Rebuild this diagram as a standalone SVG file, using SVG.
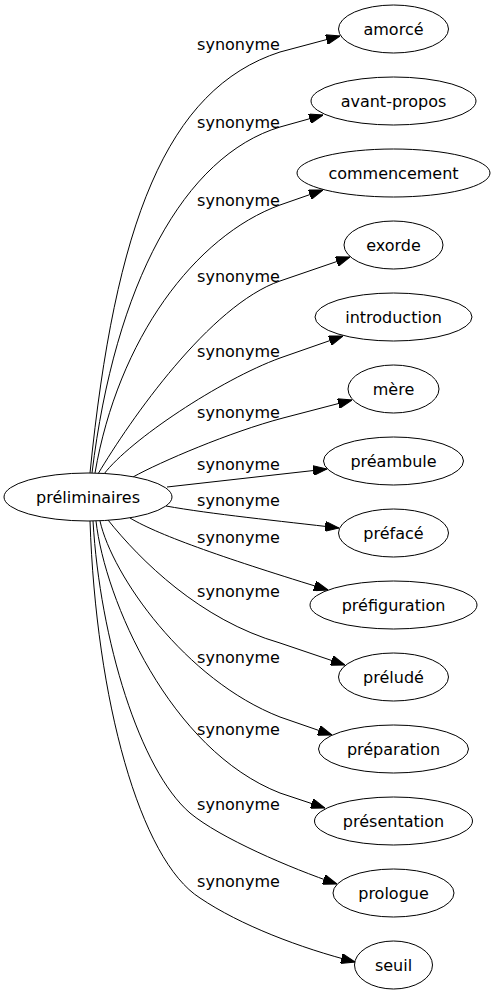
<svg xmlns="http://www.w3.org/2000/svg" width="495" height="995" viewBox="0 0 495 995">
<defs>
<style>
.node ellipse{fill:#fff;stroke:#000;stroke-width:1}
.node text{font-family:"DejaVu Sans",Verdana,sans-serif;font-size:16px;fill:#000;text-anchor:middle}
.edges path{fill:none;stroke:#000;stroke-width:1;marker-end:url(#arrow)}
.lbl text{font-family:"DejaVu Sans",Verdana,sans-serif;font-size:16px;fill:#000;text-anchor:middle}
</style>
<marker id="arrow" viewBox="0 0 14 10" refX="14" refY="5" markerWidth="14" markerHeight="10" markerUnits="userSpaceOnUse" orient="auto">
<path d="M0,0 L14,5 L0,10 z" fill="#000" stroke="#000" stroke-width="1"/>
</marker>
</defs>
<rect width="495" height="995" fill="#fff"/>
<g id="edges" class="edges">
<path d="M90,473 C115,224 166,89 280,52 L340,36"/>
<path d="M92,473 C115,284 184,156 280,127 L323,115"/>
<path d="M95,473 C118,339 195,236 280,205 L323,190"/>
<path d="M98,474 C130,420 210,305 280,281 L350,257"/>
<path d="M104,474 C130,440 220,380 280,358 L343,336"/>
<path d="M133,477 C160,462 230,432 283,418 L352,400"/>
<path d="M167,487 L327,469"/>
<path d="M166,506 C210,514 280,521 339,528"/>
<path d="M130,518 C160,536 230,560 328,590"/>
<path d="M108,520 C140,560 200,620 280,643 L345,665"/>
<path d="M100,521 C112,575 185,680 280,717 L332,735"/>
<path d="M96,521 C105,600 170,750 280,793 L325,808"/>
<path d="M93,521 C100,640 140,770 190,813 C220,838 290,868 337,884"/>
<path d="M90,521 C96,700 140,860 200,898 C240,925 300,948 355,962"/>
</g>
<g id="labels" class="lbl">
<text x="238.5" y="49.5">synonyme</text>
<text x="238.5" y="127.5">synonyme</text>
<text x="238.5" y="205.5">synonyme</text>
<text x="238.5" y="281.5">synonyme</text>
<text x="238.5" y="356.5">synonyme</text>
<text x="238.5" y="417.5">synonyme</text>
<text x="238.5" y="469.5">synonyme</text>
<text x="238.5" y="505.5">synonyme</text>
<text x="238.5" y="542.5">synonyme</text>
<text x="238.5" y="596.5">synonyme</text>
<text x="238.5" y="662.5">synonyme</text>
<text x="238.5" y="734.5">synonyme</text>
<text x="238.5" y="809.5">synonyme</text>
<text x="238.5" y="886.5">synonyme</text>
</g>
<g id="preliminaires" class="node"><ellipse cx="88" cy="497" rx="84" ry="24"/><text x="88" y="502.5">préliminaires</text></g>
<g id="amorce" class="node"><ellipse cx="393.5" cy="29" rx="55" ry="24"/><text x="393.5" y="34.5">amorcé</text></g>
<g id="avant-propos" class="node"><ellipse cx="393.5" cy="101" rx="82.5" ry="24"/><text x="393.5" y="106.5">avant-propos</text></g>
<g id="commencement" class="node"><ellipse cx="393.5" cy="173" rx="96.5" ry="24"/><text x="393.5" y="178.5">commencement</text></g>
<g id="exorde" class="node"><ellipse cx="393.5" cy="245" rx="49.5" ry="24"/><text x="393.5" y="250.5">exorde</text></g>
<g id="introduction" class="node"><ellipse cx="393.5" cy="317" rx="78.5" ry="24"/><text x="393.5" y="322.5">introduction</text></g>
<g id="mere" class="node"><ellipse cx="393.5" cy="389" rx="45.5" ry="24"/><text x="393.5" y="394.5">mère</text></g>
<g id="preambule" class="node"><ellipse cx="393.5" cy="461" rx="70" ry="24"/><text x="393.5" y="466.5">préambule</text></g>
<g id="preface" class="node"><ellipse cx="393.5" cy="533" rx="55" ry="24"/><text x="393.5" y="538.5">préfacé</text></g>
<g id="prefiguration" class="node"><ellipse cx="393.5" cy="605" rx="83.5" ry="24"/><text x="393.5" y="610.5">préfiguration</text></g>
<g id="prelude" class="node"><ellipse cx="393.5" cy="677" rx="55" ry="24"/><text x="393.5" y="682.5">préludé</text></g>
<g id="preparation" class="node"><ellipse cx="393.5" cy="749" rx="75" ry="24"/><text x="393.5" y="754.5">préparation</text></g>
<g id="presentation" class="node"><ellipse cx="393.5" cy="821" rx="79" ry="24"/><text x="393.5" y="826.5">présentation</text></g>
<g id="prologue" class="node"><ellipse cx="393.5" cy="893" rx="60.5" ry="24"/><text x="393.5" y="898.5">prologue</text></g>
<g id="seuil" class="node"><ellipse cx="393.5" cy="965" rx="39" ry="24"/><text x="393.5" y="970.5">seuil</text></g>
</svg>
